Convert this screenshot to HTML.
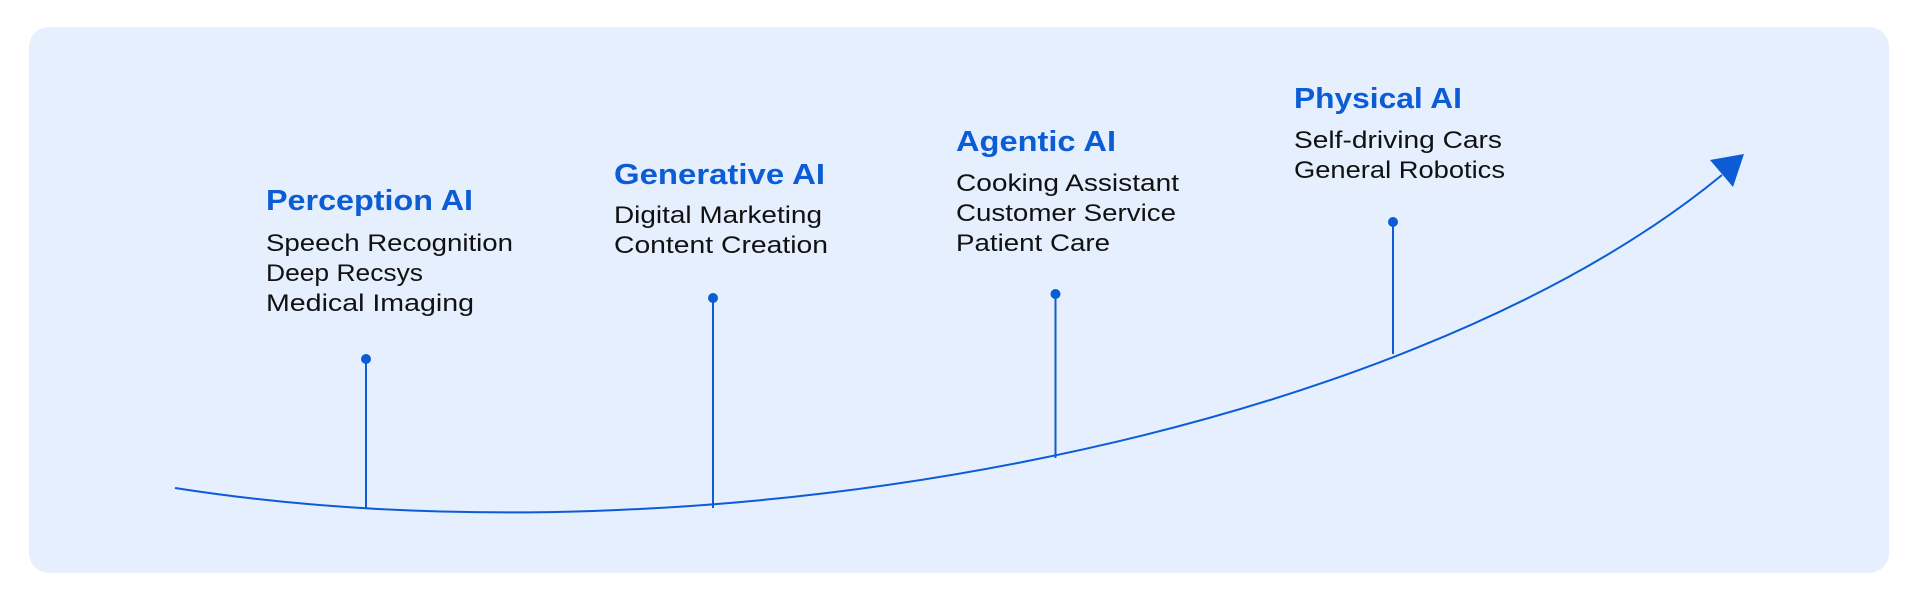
<!DOCTYPE html>
<html><head><meta charset="utf-8"><style>
html,body{margin:0;padding:0;background:#fff;width:1920px;height:600px;overflow:hidden}
svg{display:block}
.t{font-family:"Liberation Sans",sans-serif;font-weight:bold;font-size:29px;fill:#0b5cd5}
.i{font-family:"Liberation Sans",sans-serif;font-size:24px;fill:#111}
</style></head><body>
<svg width="1920" height="600" viewBox="0 0 1920 600">
<rect x="29" y="27" width="1860" height="546" rx="20" fill="#e5effd"/>
<path d="M175,488 C700,570 1400,440 1722,175" fill="none" stroke="#0b5cd5" stroke-width="2"/>
<polygon points="1744,154 1710,160 1733,187" fill="#0b5cd5"/>
<g stroke="#0b5cd5" stroke-width="2">
<line x1="366" y1="359" x2="366" y2="508"/>
<line x1="713" y1="298" x2="713" y2="508"/>
<line x1="1055.5" y1="294" x2="1055.5" y2="458"/>
<line x1="1393" y1="222" x2="1393" y2="354"/>
</g>
<g fill="#0b5cd5">
<circle cx="366" cy="359" r="5"/><circle cx="713" cy="298" r="5"/>
<circle cx="1055.5" cy="294" r="5"/><circle cx="1393" cy="222" r="5"/>
</g>
<text class="t" x="266" y="210" textLength="207" lengthAdjust="spacingAndGlyphs">Perception AI</text>
<text class="i" x="266" y="251" textLength="247" lengthAdjust="spacingAndGlyphs">Speech Recognition</text>
<text class="i" x="266" y="281" textLength="157" lengthAdjust="spacingAndGlyphs">Deep Recsys</text>
<text class="i" x="266" y="311" textLength="208" lengthAdjust="spacingAndGlyphs">Medical Imaging</text>

<text class="t" x="614" y="184" textLength="211" lengthAdjust="spacingAndGlyphs">Generative AI</text>
<text class="i" x="614" y="223" textLength="208" lengthAdjust="spacingAndGlyphs">Digital Marketing</text>
<text class="i" x="614" y="253" textLength="214" lengthAdjust="spacingAndGlyphs">Content Creation</text>

<text class="t" x="956" y="151" textLength="160" lengthAdjust="spacingAndGlyphs">Agentic AI</text>
<text class="i" x="956" y="191" textLength="223" lengthAdjust="spacingAndGlyphs">Cooking Assistant</text>
<text class="i" x="956" y="221" textLength="220" lengthAdjust="spacingAndGlyphs">Customer Service</text>
<text class="i" x="956" y="251" textLength="154" lengthAdjust="spacingAndGlyphs">Patient Care</text>

<text class="t" x="1294" y="108" textLength="168" lengthAdjust="spacingAndGlyphs">Physical AI</text>
<text class="i" x="1294" y="148" textLength="208" lengthAdjust="spacingAndGlyphs">Self-driving Cars</text>
<text class="i" x="1294" y="178" textLength="211" lengthAdjust="spacingAndGlyphs">General Robotics</text>
</svg>
</body></html>
